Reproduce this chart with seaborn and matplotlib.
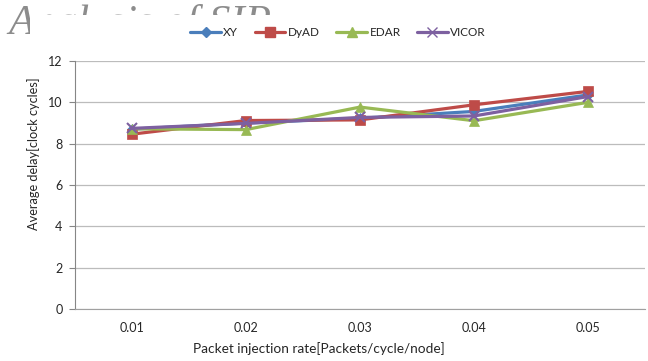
import pandas as pd
import matplotlib.pyplot as plt
import seaborn as sns
from matplotlib.patches import Rectangle
from matplotlib.lines import Line2D


rates = ['0.01', '0.02', '0.03', '0.04', '0.05']
xy = [8.70, 9.00, 9.23, 9.56, 10.36]
dyad = [8.46, 9.12, 9.15, 9.88, 10.53]
edar = [8.72, 8.68, 9.77, 9.11, 10.00]
vicor = [8.74, 8.98, 9.27, 9.34, 10.28]

series = ['XY', 'DyAD', 'EDAR', 'VICOR']
colors = ['#4A7EBB', '#BE4B48', '#98B954', '#7D60A0']
markers = ['D', 's', '^', 'x']
msizes = [5.5, 7, 7.5, 7]

data = pd.DataFrame({'rate': rates, 'XY': xy, 'DyAD': dyad, 'EDAR': edar, 'VICOR': vicor})
data = data.melt(id_vars='rate', var_name='scheme', value_name='delay')

sns.set_style('white')
plt.rcParams['font.family'] = ['Lato', 'DejaVu Sans']

fig = plt.figure(figsize=(6.48, 3.61), dpi=100)
ax = fig.add_axes([75 / 648, 1 - 309 / 361, 570 / 648, 248 / 361])
ax.set_zorder(2)

# leftover heading from the page behind the chart, mostly hidden by the chart
fig.text(8 / 648, 1 - 34 / 361, 'Analysis of SIP', family='Liberation Serif', style='italic',
         fontsize=31, color='#8c8c8c', zorder=0.5)
fig.add_artist(Rectangle((30 / 648, 0), 1, 1 - 15 / 361, transform=fig.transFigure,
                         facecolor='white', edgecolor='none', zorder=1))

for name, c, m, ms in zip(series, colors, markers, msizes):
    sub = data[data['scheme'] == name]
    sns.lineplot(x='rate', y='delay', data=sub, ax=ax, color=c, marker=m, markersize=ms,
                 markeredgecolor=c, markeredgewidth=1.5 if m == 'x' else 0.5,
                 linewidth=2.3, sort=False, label=name, legend=False)

ax.set_xlim(-0.5, 4.5)
ax.set_ylim(0, 12)
ax.set_yticks(range(0, 13, 2))
ax.set_xticks(range(5))
ax.set_xticklabels(rates)
ax.set_xticks([-0.5, 0.5, 1.5, 2.5, 3.5, 4.5], minor=True)
ax.tick_params(axis='x', which='major', length=0, pad=9, labelsize=9, labelcolor='#262626')
ax.tick_params(axis='x', which='minor', length=4, width=0.8, color='#a0a0a0', direction='out')
ax.tick_params(axis='y', length=4, width=0.8, color='#868686', pad=5, labelsize=9,
               labelcolor='#262626', left=True)
ax.grid(axis='y', color='#bcbcbc', linewidth=0.9)
ax.set_axisbelow(True)
for s in ['top', 'right']:
    ax.spines[s].set_visible(False)
ax.spines['left'].set_color('#868686')
ax.spines['bottom'].set_color('#a0a0a0')
ax.spines['left'].set_linewidth(0.8)
ax.spines['bottom'].set_linewidth(0.8)

ax.set_xlabel('Packet injection rate[Packets/cycle/node]', fontsize=9.8, color='#262626', labelpad=5)
ax.xaxis.set_label_coords((319 - 75) / 570, -0.135)
ax.set_ylabel('Average delay[clock cycles]', fontsize=9.2, color='#262626')
ax.yaxis.set_label_coords(-0.062, 0.625)

handles = [Line2D([], [], color=c, marker=m, markersize=ms, markeredgecolor=c, linewidth=2.3)
           for c, m, ms in zip(colors, markers, msizes)]
leg = fig.legend(handles, series, loc='center', bbox_to_anchor=(338 / 648, 1 - 33 / 361),
                 ncol=4, frameon=False, fontsize=8.5, handlelength=2.6, handletextpad=0.2,
                 columnspacing=1.4)
leg.set_zorder(3)

fig.savefig('out.png', dpi=100)
